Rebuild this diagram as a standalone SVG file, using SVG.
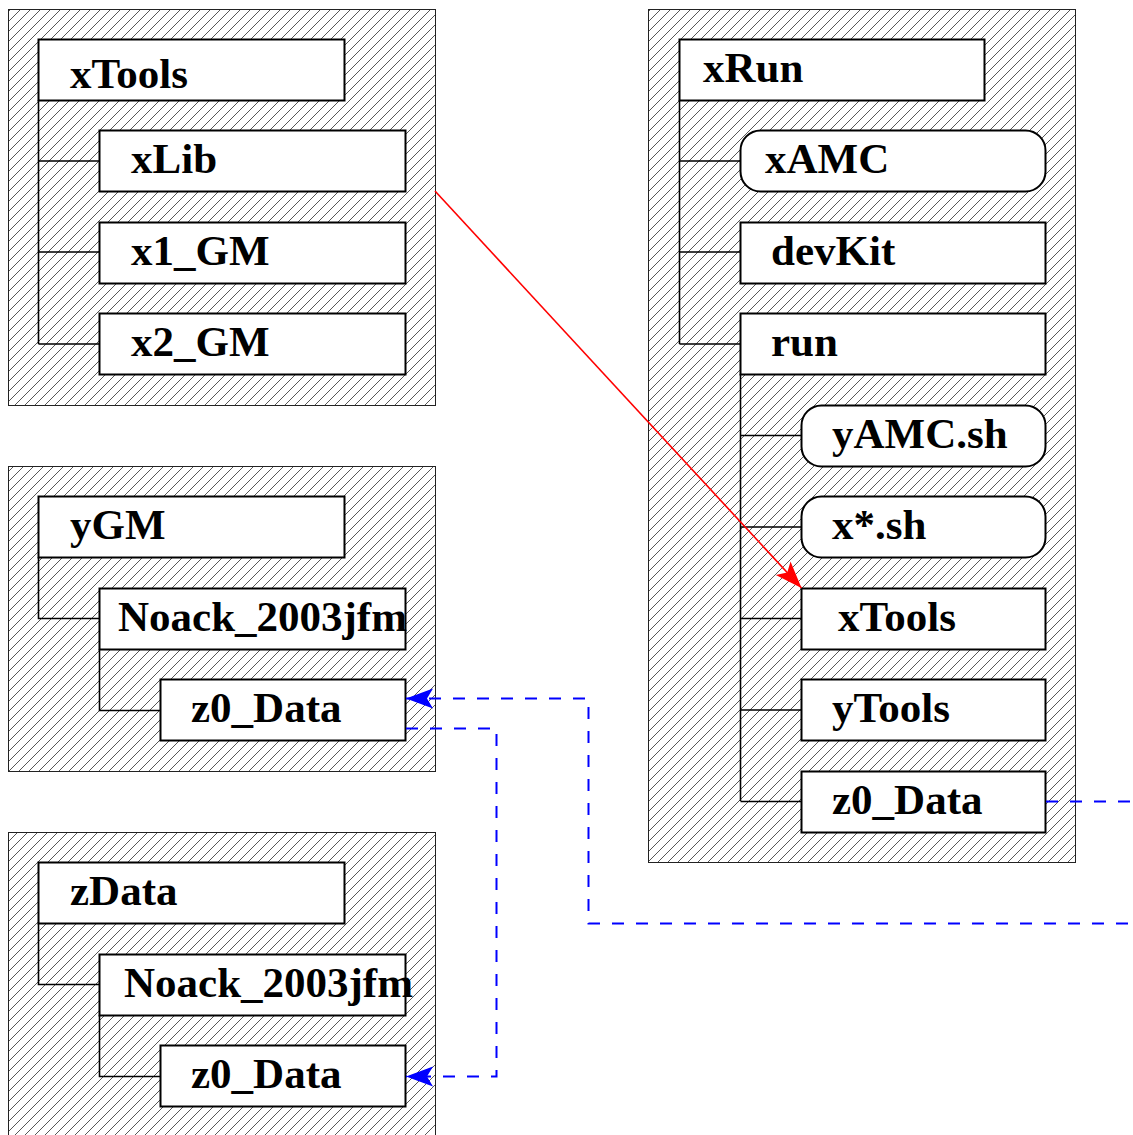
<svg xmlns="http://www.w3.org/2000/svg" width="1133" height="1135" viewBox="0 0 1133 1135">
<style>
.cont{fill:url(#hatch);stroke:#222;stroke-width:1}
.box{fill:#fff;stroke:#000;stroke-width:2}
.tree{fill:none;stroke:#000;stroke-width:1.6}
.lbl{font-family:"Liberation Serif","Times New Roman",serif;font-weight:bold;font-size:43px;fill:#000}
.red{fill:none;stroke:#ff0000;stroke-width:1.6}
.blue{fill:none;stroke:#0000ff;stroke-width:2;stroke-dasharray:12 12}
</style>
<defs>
<pattern id="hatch" patternUnits="userSpaceOnUse" width="10" height="10">
<path d="M-1,1 L1,-1 M0,10 L10,0 M9,11 L11,9" stroke="#444" stroke-width="0.9"/>
</pattern>
<marker id="arrRed" markerUnits="userSpaceOnUse" viewBox="-28 -11 29 22" refX="0" refY="0" markerWidth="29" markerHeight="22" orient="auto">
<path d="M0,0 L-27,-10 L-21,0 L-27,10 Z" fill="#ff0000"/>
</marker>
<marker id="arrBlue" markerUnits="userSpaceOnUse" viewBox="-28 -11 29 22" refX="0" refY="0" markerWidth="29" markerHeight="22" orient="auto">
<path d="M0,0 L-27,-10 L-21,0 L-27,10 Z" fill="#0000ff"/>
</marker>
</defs>
<rect width="1133" height="1135" fill="#fff"/>

<!-- Container 1: xTools -->
<g id="group-xTools">
<rect class="cont" x="8.5" y="9.5" width="427" height="396"/>
<path class="tree" d="M38.5,100 V344 M38.5,161 H99 M38.5,252 H99 M38.5,344 H99"/>
<g id="node-xTools"><rect class="box" x="38.5" y="39.5" width="306" height="61"/><text class="lbl" x="70" y="88">xTools</text></g>
<g id="node-xLib"><rect class="box" x="99.5" y="130.5" width="306" height="61"/><text class="lbl" x="131" y="173">xLib</text></g>
<g id="node-x1_GM"><rect class="box" x="99.5" y="222.5" width="306" height="61"/><text class="lbl" x="131" y="265">x1_GM</text></g>
<g id="node-x2_GM"><rect class="box" x="99.5" y="313.5" width="306" height="61"/><text class="lbl" x="131" y="356">x2_GM</text></g>
</g>

<!-- Container 2: yGM -->
<g id="group-yGM">
<rect class="cont" x="8.5" y="466.5" width="427" height="305"/>
<path class="tree" d="M38.5,557 V618.5 H99 M99.5,649 V710.5 H160"/>
<g id="node-yGM"><rect class="box" x="38.5" y="496.5" width="306" height="61"/><text class="lbl" x="70" y="539">yGM</text></g>
<g id="node-yGM-Noack"><rect class="box" x="99.5" y="588.5" width="306" height="61"/><text class="lbl" x="118" y="631">Noack_2003jfm</text></g>
<g id="node-yGM-z0_Data"><rect class="box" x="160.5" y="679.5" width="245" height="61"/><text class="lbl" x="191" y="722">z0_Data</text></g>
</g>

<!-- Container 3: zData -->
<g id="group-zData">
<rect class="cont" x="8.5" y="832.5" width="427" height="320"/>
<path class="tree" d="M38.5,923 V984.5 H99 M99.5,1015 V1076.5 H160"/>
<g id="node-zData"><rect class="box" x="38.5" y="862.5" width="306" height="61"/><text class="lbl" x="70" y="905">zData</text></g>
<g id="node-zData-Noack"><rect class="box" x="99.5" y="954.5" width="306" height="61"/><text class="lbl" x="124" y="997">Noack_2003jfm</text></g>
<g id="node-zData-z0_Data"><rect class="box" x="160.5" y="1045.5" width="245" height="61"/><text class="lbl" x="191" y="1088">z0_Data</text></g>
</g>

<!-- Container 4: xRun -->
<g id="group-xRun">
<rect class="cont" x="648.5" y="9.5" width="427" height="853"/>
<path class="tree" d="M679.5,100 V344 M679.5,161 H740 M679.5,252 H740 M679.5,344 H740"/>
<path class="tree" d="M740.5,374 V801 M740.5,435.5 H801 M740.5,527 H801 M740.5,618.5 H801 M740.5,710 H801 M740.5,801.5 H801"/>
<g id="node-xRun"><rect class="box" x="679.5" y="39.5" width="305" height="61"/><text class="lbl" x="703" y="82">xRun</text></g>
<g id="node-xAMC"><rect class="box" x="740.5" y="130.5" width="305" height="61" rx="20" ry="20"/><text class="lbl" x="765" y="173">xAMC</text></g>
<g id="node-devKit"><rect class="box" x="740.5" y="222.5" width="305" height="61"/><text class="lbl" x="771" y="265">devKit</text></g>
<g id="node-run"><rect class="box" x="740.5" y="313.5" width="305" height="61"/><text class="lbl" x="771" y="356">run</text></g>
<g id="node-yAMC.sh"><rect class="box" x="801.5" y="405.5" width="244" height="61" rx="20" ry="20"/><text class="lbl" x="832" y="448">yAMC.sh</text></g>
<g id="node-x_sh"><rect class="box" x="801.5" y="496.5" width="244" height="61" rx="20" ry="20"/><text class="lbl" x="832" y="539">x*.sh</text></g>
<g id="node-run-xTools"><rect class="box" x="801.5" y="588.5" width="244" height="61"/><text class="lbl" x="838" y="631">xTools</text></g>
<g id="node-yTools"><rect class="box" x="801.5" y="679.5" width="244" height="61"/><text class="lbl" x="832" y="722">yTools</text></g>
<g id="node-run-z0_Data"><rect class="box" x="801.5" y="771.5" width="244" height="61"/><text class="lbl" x="832" y="814">z0_Data</text></g>
</g>

<!-- Connectors -->
<g id="connectors">
<path class="red" d="M435,191 L801.5,588" marker-end="url(#arrRed)"/>
<path class="blue" d="M1046,801.5 H1170 V923.5 H588.5 V698.5 H406" marker-end="url(#arrBlue)"/>
<path class="blue" d="M406,728.5 H496.5 V1076.5 H406" marker-end="url(#arrBlue)"/>
</g>
</svg>
